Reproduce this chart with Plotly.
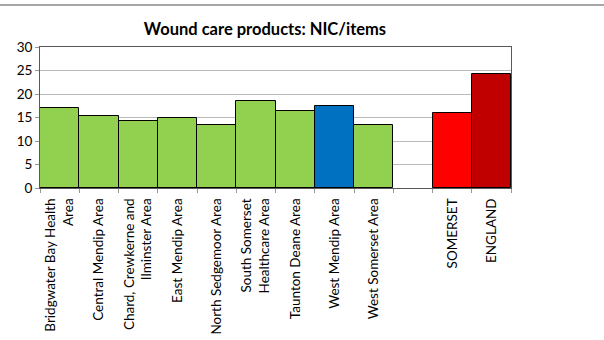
import plotly.graph_objects as go

categories = [
    "Bridgwater Bay Health<br>Area",
    "Central Mendip Area",
    "Chard, Crewkerne and<br>Ilminster Area",
    "East Mendip Area",
    "North Sedgemoor Area",
    "South Somerset<br>Healthcare Area",
    "Taunton Deane Area",
    "West Mendip Area",
    "West Somerset Area",
    " ",
    "SOMERSET",
    "ENGLAND",
]
values = [17.0, 15.3, 14.2, 15.0, 13.3, 18.5, 16.3, 17.4, 13.5, None, 15.9, 24.3]
colors = ["#92D050"] * 7 + ["#0070C0", "#92D050", "#FFFFFF", "#FF0000", "#C00000"]
y_ticks = [0, 5, 10, 15, 20, 25, 30]

FONT = "Lato"

fig = go.Figure(
    go.Bar(
        x=categories,
        y=values,
        marker=dict(color=colors, line=dict(color="#000000", width=1)),
        hoverinfo="x+y",
    )
)

fig.update_layout(
    width=604,
    height=340,
    autosize=False,
    margin=dict(l=40, r=93, t=47, b=152),
    paper_bgcolor="white",
    plot_bgcolor="white",
    bargap=0,
    showlegend=False,
    font=dict(family=FONT, size=13.5, color="#000000"),
    title=dict(
        text="<b>Wound care products: NIC/items</b>",
        x=265 / 604,
        xanchor="center",
        y=1 - 29 / 340,
        yanchor="middle",
        font=dict(family=FONT, size=16.5, color="#000000"),
    ),
    xaxis=dict(
        type="category",
        automargin=False,
        tickangle=-90,
        ticks="outside",
        tickson="boundaries",
        ticklen=4,
        tickcolor="#999999",
        showline=True,
        linecolor="#595959",
        mirror=True,
        showgrid=False,
        ticklabelstandoff=4,
        tickfont=dict(family=FONT, size=13.5),
    ),
    yaxis=dict(
        range=[0, 30],
        automargin=False,
        tickvals=y_ticks,
        ticks="outside",
        ticklen=4,
        tickcolor="#999999",
        showline=True,
        linecolor="#595959",
        mirror=True,
        showgrid=True,
        gridcolor="#BBBBBB",
        gridwidth=1,
        zeroline=False,
        tickfont=dict(family=FONT, size=13.5),
    ),
    shapes=[
        dict(
            type="line",
            xref="paper",
            yref="paper",
            x0=-40 / 471,
            x1=(604 - 40) / 471,
            y0=1 + 42 / 141,
            y1=1 + 42 / 141,
            line=dict(color="#A6A6A6", width=2),
            layer="above",
        )
    ],
)

fig.write_html(
    "out.html",
    config={"displayModeBar": False},
    post_script="document.body.style.margin='0';",
)
